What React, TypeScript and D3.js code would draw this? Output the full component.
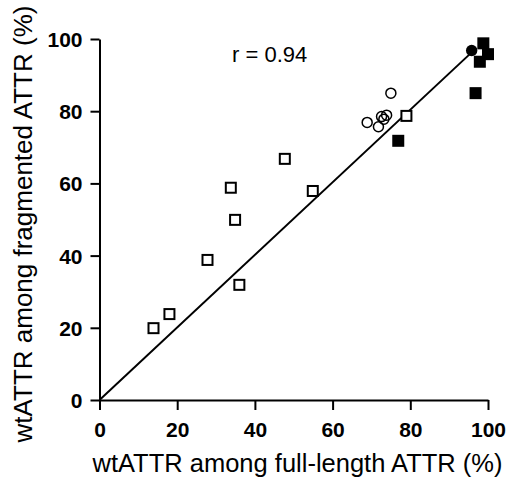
import React, { useEffect, useRef } from 'react';
import * as d3 from 'd3';

// open squares
const sqOpenX = [13.9, 18, 27.8, 36, 34.9, 33.8, 47.7, 54.9, 79];
const sqOpenY = [19.9, 23.8, 38.8, 31.9, 49.9, 58.8, 66.8, 57.9, 78.7];
// open circles
const circOpenX = [68.9, 71.8, 72.6, 73.9, 73.2, 75];
const circOpenY = [76.9, 75.7, 78.5, 78.9, 77.8, 85];
// filled squares
const sqFillX = [76.9, 96.8, 97.9, 98.8, 100];
const sqFillY = [71.8, 85, 93.7, 98.8, 95.8];
// filled circles
const circFillX = [95.8];
const circFillY = [96.8];
// fitted line endpoints
const lineX = [0, 96];
const lineY = [0, 96.5];
const ticks = [0, 20, 40, 60, 80, 100];

const W = 507;
const H = 477;

export default function App() {
  const ref = useRef<SVGSVGElement>(null);

  useEffect(() => {
    const svg = d3.select(ref.current);
    svg.selectAll('*').remove();

    const x = d3.scaleLinear().domain([0, 100]).range([99.5, 488]);
    const y = d3.scaleLinear().domain([0, 100]).range([400, 39]);
    const font = '"Liberation Sans", Arial, sans-serif';

    // axes
    const xAxis = svg.append('g')
      .attr('transform', 'translate(0,400)')
      .call(d3.axisBottom(x).tickValues(ticks).tickSize(10).tickSizeOuter(0).tickPadding(5));
    const yAxis = svg.append('g')
      .attr('transform', 'translate(99.5,0)')
      .call(d3.axisLeft(y).tickValues(ticks).tickSize(9).tickSizeOuter(0).tickPadding(8));
    [xAxis, yAxis].forEach(g => {
      g.selectAll('path, line').attr('stroke', '#000').attr('stroke-width', 2);
      g.selectAll('text')
        .attr('fill', '#000')
        .attr('font-family', font)
        .attr('font-weight', 'bold')
        .attr('font-size', 21);
    });
    xAxis.selectAll('text').attr('y', 37).attr('dy', null);
    yAxis.selectAll('text').attr('dy', '0.36em');

    // titles
    svg.append('text')
      .attr('x', 297.5).attr('y', 471.5)
      .attr('text-anchor', 'middle')
      .attr('font-family', font).attr('font-size', 25.5)
      .text('wtATTR among full-length ATTR (%)');
    svg.append('text')
      .attr('transform', 'translate(32,224) rotate(-90)')
      .attr('text-anchor', 'middle')
      .attr('font-family', font).attr('font-size', 26)
      .text('wtATTR among fragmented ATTR (%)');
    svg.append('text')
      .attr('x', 232).attr('y', 61.5)
      .attr('font-family', font).attr('font-size', 22)
      .text('r = 0.94');

    // line
    const line = d3.line<number>().x(i => x(lineX[i])).y(i => y(lineY[i]));
    svg.append('path')
      .attr('d', line([0, 1]))
      .attr('fill', 'none').attr('stroke', '#000').attr('stroke-width', 2);

    const s = 10;
    svg.append('g').selectAll('rect')
      .data(d3.range(sqOpenX.length))
      .join('rect')
      .attr('x', i => x(sqOpenX[i]) - s / 2)
      .attr('y', i => y(sqOpenY[i]) - s / 2)
      .attr('width', s).attr('height', s)
      .attr('fill', '#fff').attr('stroke', '#000').attr('stroke-width', 2);

    svg.append('g').selectAll('circle')
      .data(d3.range(circOpenX.length))
      .join('circle')
      .attr('cx', i => x(circOpenX[i]))
      .attr('cy', i => y(circOpenY[i]))
      .attr('r', 5)
      .attr('fill', 'none').attr('stroke', '#000').attr('stroke-width', 1.5);

    svg.append('g').selectAll('rect')
      .data(d3.range(sqFillX.length))
      .join('rect')
      .attr('x', i => x(sqFillX[i]) - 6)
      .attr('y', i => y(sqFillY[i]) - 6)
      .attr('width', 12).attr('height', 12)
      .attr('fill', '#000');

    svg.append('g').selectAll('circle')
      .data(d3.range(circFillX.length))
      .join('circle')
      .attr('cx', i => x(circFillX[i]))
      .attr('cy', i => y(circFillY[i]))
      .attr('r', 5.7)
      .attr('fill', '#000');
  }, []);

  return (
    <svg ref={ref} width={W} height={H}
      style={{ position: 'absolute', left: 0, top: 0, background: '#fff' }} />
  );
}
